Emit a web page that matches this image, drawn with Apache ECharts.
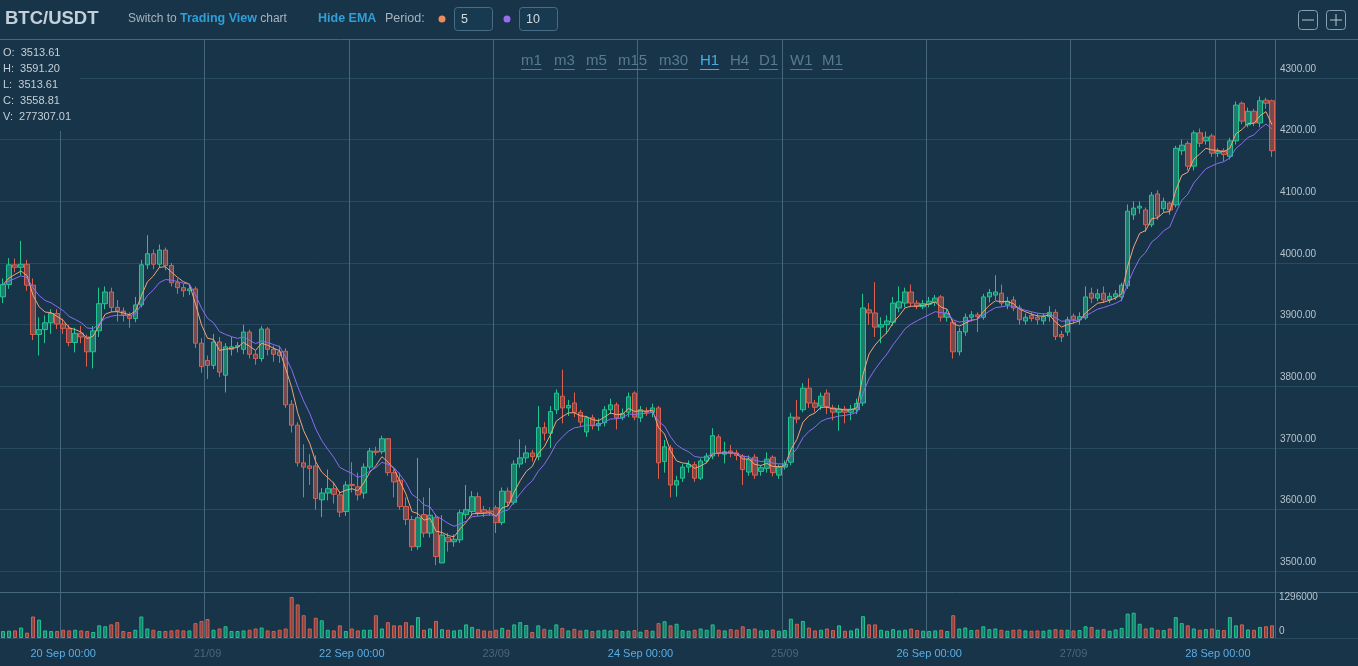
<!DOCTYPE html>
<html><head><meta charset="utf-8">
<script src="https://cdn.jsdelivr.net/npm/echarts@6/dist/echarts.min.js"></script>
<style>html,body{margin:0;padding:0;background:#173449;overflow:hidden}#c{width:1358px;height:666px}</style>
</head><body><div id="c"></div>
<script>
// ---------- DATA ----------
const opens = [3945,3965,3997,3993,3998,3964,3884,3892,3903,3918,
3901,3894,3871,3886,3880,3856,3890,3934,3953,3928,
3922,3915,3910,3932,3997,4015,3998,4021,3996,3968,
3960,3955,3958,3870,3842,3834,3872,3818,3860,3864,
3860,3888,3852,3845,3893,3860,3856,3857,3771,3737,
3676,3671,3671,3616,3627,3634,3624,3597,3641,3637,
3627,3669,3695,3694,3715,3660,3648,3605,3584,3540,
3592,3562,3587,3513.61,3555,3548,3551,3592,3597,3621,
3600,3598,3603,3579,3630,3612,3674,3684,3692,3686,
3733,3724,3762,3784,3765,3773,3758,3726,3749,3736,
3741,3762,3770,3749,3758,3789,3749,3760,3758,3765,
3678,3700,3640,3651,3669,3673,3651,3679,3687,3718,
3690,3695,3692,3687,3661,3685,3662,3667,3685,3656,
3669,3677,3750,3762,3797,3773,3768,3789,3765,3758,
3763,3758,3762,3773,3924,3919,3896,3900,3904,3927,
3935,3953,3935,3929,3933,3936,3945,3912,3904,3856,
3888,3912,3916,3912,3945,3948,3951,3932,3940,3927,
3906,3915,3912,3906,3913,3920,3884,3888,3914,3908,
3911,3951,3943,3951,3940,3945,3945,3963,4078,4089,
4086,4062,4112,4088,4097,4094,4182,4194,4157,4211,
4198,4206,4178,4182,4173,4198,4259,4224,4246,4227,
4264,4263];
const closes = [3965,3997,3993,3998,3964,3884,3892,3903,3918,3901,
3894,3871,3886,3880,3856,3890,3934,3953,3928,3922,
3915,3910,3932,3997,4015,3998,4021,3996,3968,3960,
3955,3958,3870,3832,3834,3872,3823,3864,3864,3866,
3888,3852,3845,3893,3860,3852,3850,3770,3737,3676,
3669,3667,3618,3627,3634,3625,3596,3640,3639,3624,
3669,3695,3693,3715,3660,3645,3605,3584,3540,3587,
3562,3591,3524,3558.81,3548,3552,3595,3600,3621,3595,
3595,3596,3579,3630,3612,3674,3684,3692,3686,3733,
3724,3759,3789,3765,3769,3758,3742,3749,3736,3740,
3762,3770,3749,3756,3783,3750,3762,3758,3765,3676,
3702,3640,3647,3669,3673,3651,3679,3687,3720,3692,
3694,3692,3688,3665,3682,3656,3668,3682,3660,3669,
3674,3750,3747,3797,3773,3766,3784,3767,3758,3763,
3758,3763,3772,3927,3919,3896,3900,3906,3935,3937,
3953,3935,3930,3934,3938,3943,3912,3918,3856,3889,
3912,3916,3913,3945,3952,3953,3935,3938,3927,3908,
3912,3910,3908,3913,3920,3881,3880,3908,3908,3913,
3945,3943,3950,3940,3946,3950,3964,4084,4089,4092,
4062,4110,4076,4100,4086,4186,4191,4157,4211,4194,
4204,4178,4181,4176,4198,4256,4230,4246,4227,4263,
4259,4182];
const lows = [3935,3958,3985,3980,3955,3875,3850,3870,3885,3893,
3885,3865,3855,3870,3832,3829,3880,3925,3920,3905,
3905,3895,3904,3928,3990,3990,3992,3988,3962,3950,
3945,3948,3862,3822,3812,3828,3815,3790,3850,3855,
3852,3845,3835,3840,3850,3840,3838,3765,3725,3670,
3620,3640,3600,3588,3615,3610,3588,3590,3628,3615,
3618,3665,3688,3690,3655,3620,3600,3575,3533,3535,
3555,3555,3510,3513.61,3532,3540,3546,3585,3590,3590,
3588,3590,3562,3575,3605,3608,3668,3676,3678,3680,
3712,3700,3755,3740,3752,3750,3735,3718,3730,3728,
3735,3755,3730,3745,3750,3745,3742,3752,3750,3650,
3660,3620,3621,3645,3660,3645,3648,3675,3682,3686,
3675,3685,3680,3640,3655,3650,3655,3660,3654,3650,
3665,3672,3740,3758,3765,3758,3762,3755,3745,3728,
3740,3745,3755,3768,3900,3880,3870,3885,3898,3920,
3928,3930,3925,3925,3928,3930,3905,3905,3845,3850,
3882,3905,3888,3908,3936,3940,3930,3925,3922,3900,
3900,3905,3900,3900,3905,3875,3872,3882,3902,3900,
3908,3935,3938,3935,3935,3940,3938,3958,4070,4080,
4050,4058,4070,4082,4078,4090,4175,4150,4150,4188,
4192,4172,4172,4165,4168,4192,4225,4220,4222,4220,
4250,4172];
const highs = [3975,4008,4007,4036,4005,3975,3912,3915,3925,3925,
3910,3900,3895,3898,3884,3898,3960,3962,3960,3940,
3928,3920,3945,4005,4045,4022,4030,4025,4000,3975,
3966,3965,3962,3878,3850,3885,3880,3870,3880,3872,
3900,3892,3858,3898,3896,3866,3866,3862,3778,3742,
3706,3690,3688,3635,3665,3645,3630,3646,3677,3660,
3675,3700,3702,3720,3716,3665,3660,3620,3590,3684,
3620,3635,3593,3591.20,3562,3560,3600,3640,3630,3628,
3606,3604,3607,3636,3636,3680,3714,3704,3697,3768,
3742,3768,3795,3827,3778,3790,3762,3752,3754,3748,
3768,3780,3774,3764,3790,3792,3768,3766,3772,3768,
3713,3705,3655,3674,3680,3678,3683,3692,3732,3722,
3710,3705,3697,3690,3688,3690,3672,3693,3688,3673,
3680,3757,3778,3805,3813,3778,3790,3795,3770,3770,
3768,3770,3780,3950,3935,3969,3912,3915,3945,3962,
3960,3965,3940,3940,3945,3948,3948,3925,3908,3895,
3918,3922,3920,3950,3958,3980,3965,3945,3946,3932,
3918,3920,3918,3918,3930,3925,3890,3913,3918,3920,
3962,3960,3958,3962,3952,3956,3968,4095,4100,4100,
4090,4115,4118,4106,4100,4190,4200,4198,4215,4218,
4213,4210,4186,4186,4203,4262,4262,4252,4250,4270,
4268,4265];
const volumes = [220000,230000,240000,330000,170000,680000,580000,240000,220000,220000,
260000,240000,260000,240000,220000,190000,400000,370000,430000,500000,
220000,190000,260000,680000,300000,260000,220000,220000,240000,260000,
240000,240000,470000,540000,600000,260000,300000,370000,220000,220000,
240000,260000,300000,330000,240000,220000,260000,300000,1296000,1060000,
720000,300000,640000,560000,260000,240000,400000,220000,300000,240000,
260000,260000,720000,300000,500000,400000,400000,500000,400000,660000,
260000,300000,540000,277307.01,260000,240000,260000,430000,350000,280000,
240000,230000,260000,320000,260000,430000,500000,410000,190000,400000,
290000,260000,430000,320000,240000,290000,240000,260000,220000,240000,
260000,240000,260000,220000,230000,250000,200000,250000,230000,470000,
530000,400000,450000,250000,230000,260000,300000,260000,430000,260000,
240000,280000,260000,370000,280000,300000,240000,250000,270000,230000,
250000,610000,450000,540000,330000,240000,260000,300000,250000,400000,
230000,240000,300000,690000,430000,430000,260000,230000,280000,240000,
260000,300000,250000,230000,220000,240000,260000,220000,720000,300000,
330000,250000,260000,370000,280000,300000,260000,230000,260000,270000,
240000,230000,240000,230000,260000,280000,260000,260000,240000,250000,
370000,350000,260000,280000,230000,270000,320000,770000,800000,450000,
300000,330000,260000,250000,300000,660000,470000,400000,300000,260000,
280000,300000,260000,250000,660000,400000,430000,270000,260000,350000,
370000,400000];
const priceTicks = [3500,3600,3700,3800,3900,4000,4100,4200,4300];
const volTicks = [0,1296000];
const dayLabels = ['20 Sep 00:00','21/09','22 Sep 00:00','23/09','24 Sep 00:00','25/09','26 Sep 00:00','27/09','28 Sep 00:00'];
const firstDayIndex = 10;          // candle index of 20 Sep 00:00 (series starts 19 Sep 14:00)
const timeframes = ['m1','m3','m5','m15','m30','H1','H4','D1','W1','M1'];
const activeTf = 'H1';
const emaPeriods = [5,10];
const infoIndex = 73;
const symbol = 'BTC/USDT';

// ---------- HELPERS ----------
const N = closes.length;
const pad = n => (n < 10 ? '0' : '') + n;
const categories = [];
for (let i = 0; i < N; i++) {
  const d = new Date(Date.UTC(2018, 8, 19, 14 + i));
  categories.push(pad(d.getUTCMonth() + 1) + '-' + pad(d.getUTCDate()) + ' ' + pad(d.getUTCHours()) + ':00');
}
function ema(vals, n) {
  const k = 2 / (n + 1); const out = []; let e = vals[0];
  vals.forEach((v, i) => { e = i === 0 ? v : v * k + e * (1 - k); out.push(+e.toFixed(2)); });
  return out;
}
const isDay = idx => idx >= firstDayIndex && (idx - firstDayIndex) % 24 === 0;

const BG = '#173449', GREEN = '#22c592', RED = '#dc5f4f';
const GF = 'rgba(34,197,146,0.5)', RF = 'rgba(220,95,79,0.5)';
const HLINE = '#284a61', VLINE = '#46667c', SEP = '#46687f';
const FONT = '"Liberation Sans", Arial, sans-serif';

const PMIN = 3466.5, PMAX = 4363.2, VMAX = 1454000;

const candleData = opens.map((o, i) => [o, closes[i], lows[i], highs[i]]);
const volData = volumes.map((v, i) => {
  const up = closes[i] >= opens[i];
  return { value: v, itemStyle: { color: up ? GF : RF, borderColor: up ? GREEN : RED, borderWidth: 1 } };
});

// text measuring for underlines
const mctx = document.createElement('canvas').getContext('2d');
function tw(t, font) { mctx.font = font; return mctx.measureText(t).width; }

// ---------- GRAPHICS (header, info box) ----------
const g = [];
g.push({ type: 'rect', z: 100, shape: { x: 0, y: 0, width: 1358, height: 39 }, style: { fill: BG } });
g.push({ type: 'line', z: 101, shape: { x1: 0, y1: 39.5, x2: 1358, y2: 39.5 }, style: { stroke: '#44667e', lineWidth: 1 } });
g.push({ type: 'text', z: 101, x: 5, y: 19, style: { text: symbol, font: 'bold 18.5px ' + FONT, fill: '#c3d0da', verticalAlign: 'middle' } });
g.push({ type: 'text', z: 101, x: 128, y: 19, style: {
  text: '{g|Switch to }{b|Trading View}{g| chart}', verticalAlign: 'middle',
  rich: { g: { font: '12px ' + FONT, fill: '#a7b4be' }, b: { font: 'bold 12.5px ' + FONT, fill: '#2f9fd8' } } } });
g.push({ type: 'text', z: 101, x: 318, y: 19, style: { text: 'Hide EMA', font: 'bold 12.5px ' + FONT, fill: '#2f9fd8', verticalAlign: 'middle' } });
g.push({ type: 'text', z: 101, x: 385, y: 19, style: { text: 'Period:', font: '12.5px ' + FONT, fill: '#a7b4be', verticalAlign: 'middle' } });
const dotCol = ['#f08a5b', '#9a6cf2'];
const boxX = [454, 519];
emaPeriods.forEach((p, k) => {
  g.push({ type: 'circle', z: 101, shape: { cx: boxX[k] - 12, cy: 19, r: 3.5 }, style: { fill: dotCol[k] } });
  g.push({ type: 'rect', z: 101, shape: { x: boxX[k] + 0.5, y: 7.5, width: 38, height: 23, r: 3 }, style: { fill: '#183a51', stroke: '#4a6d86', lineWidth: 1 } });
  g.push({ type: 'text', z: 102, x: boxX[k] + 7, y: 19.5, style: { text: String(p), font: '12.5px ' + FONT, fill: '#d3dbe1', verticalAlign: 'middle' } });
});
// zoom buttons
[[1298, '-'], [1326, '+']].forEach(([bx, s]) => {
  g.push({ type: 'rect', z: 101, shape: { x: bx + 0.5, y: 10.5, width: 19, height: 19, r: 3 }, style: { fill: 'none', stroke: '#8aa0b0', lineWidth: 1 } });
  g.push({ type: 'line', z: 101, shape: { x1: bx + 4, y1: 20, x2: bx + 16, y2: 20 }, style: { stroke: '#b9c7d1', lineWidth: 1 } });
  if (s === '+') g.push({ type: 'line', z: 101, shape: { x1: bx + 10, y1: 14, x2: bx + 10, y2: 26 }, style: { stroke: '#b9c7d1', lineWidth: 1 } });
});
// timeframes
const tfX = [521, 554, 586, 618, 659, 700, 730, 759, 790, 822];
const tfFont = '15px ' + FONT;
timeframes.forEach((t, k) => {
  const col = t === activeTf ? '#4aaae4' : '#5a7a90';
  const w = tw(t, tfFont);
  g.push({ type: 'text', z: 101, x: tfX[k], y: 61, style: { text: t, font: tfFont, fill: col, verticalAlign: 'middle' } });
  g.push({ type: 'line', z: 101, shape: { x1: tfX[k], y1: 69.5, x2: tfX[k] + w, y2: 69.5 }, style: { stroke: col, lineWidth: 1 } });
});
// info box
g.push({ type: 'rect', z: 100, shape: { x: 0, y: 40, width: 80, height: 91 }, style: { fill: BG } });
const info = [['O', opens[infoIndex]], ['H', highs[infoIndex]], ['L', lows[infoIndex]], ['C', closes[infoIndex]], ['V', volumes[infoIndex]]];
info.forEach(([k, v], j) => {
  g.push({ type: 'text', z: 101, x: 3, y: 53 + j * 16, style: { text: k + ':  ' + v.toFixed(2), font: '11px ' + FONT, fill: '#c5cfd7', verticalAlign: 'middle' } });
});

// ---------- CHART ----------
const chart = echarts.init(document.getElementById('c'));
const baseAxisText = { fontFamily: FONT, fontSize: 10, color: '#b8c3cb' };
chart.setOption({
  backgroundColor: BG,
  animation: false,
  grid: [
    { left: 0, top: 39, width: 1275, height: 553 },
    { left: 0, top: 592, width: 1275, height: 46 },
    { left: 1275, top: 39, width: 83, height: 553 },
    { left: 1275, top: 592, width: 83, height: 46 }
  ],
  xAxis: [
    { type: 'category', gridIndex: 0, data: categories, boundaryGap: true,
      axisLine: { show: true, lineStyle: { color: SEP } }, axisTick: { show: false }, axisLabel: { show: false },
      splitLine: { show: true, interval: (i) => isDay(i), lineStyle: { color: VLINE, width: 1 } } },
    { type: 'category', gridIndex: 1, data: categories, boundaryGap: true,
      axisLine: { show: true, lineStyle: { color: '#2a4a60' } }, axisTick: { show: false },
      axisLabel: { show: true, interval: (i) => isDay(i), margin: 10, fontFamily: FONT, fontSize: 11,
        formatter: (v, i) => { const k = (i - firstDayIndex) / 24; return k % 2 === 0 ? '{a|' + dayLabels[k] + '}' : '{b|' + dayLabels[k] + '}'; },
        rich: { a: { color: '#5aaee6', fontFamily: FONT, fontSize: 11 }, b: { color: '#4f6577', fontFamily: FONT, fontSize: 11 } } },
      splitLine: { show: true, interval: (i) => isDay(i), lineStyle: { color: VLINE, width: 1 } } },
    { type: 'value', gridIndex: 2, min: 0, max: 1, axisLine: { show: true, lineStyle: { color: SEP } }, axisTick: { show: false }, axisLabel: { show: false }, splitLine: { show: false } },
    { type: 'value', gridIndex: 3, min: 0, max: 1, axisLine: { show: true, lineStyle: { color: '#2a4a60' } }, axisTick: { show: false }, axisLabel: { show: false }, splitLine: { show: false } }
  ],
  yAxis: [
    { type: 'value', gridIndex: 0, min: PMIN, max: PMAX, position: 'right',
      axisLine: { show: false }, axisTick: { show: false, customValues: priceTicks }, axisLabel: { show: false, customValues: priceTicks },
      splitLine: { show: true, lineStyle: { color: HLINE } } },
    { type: 'value', gridIndex: 1, min: 0, max: VMAX, axisLine: { show: false }, axisTick: { show: false }, axisLabel: { show: false }, splitLine: { show: false } },
    { type: 'value', gridIndex: 2, min: PMIN, max: PMAX, position: 'left',
      axisLine: { show: true, lineStyle: { color: SEP } }, axisTick: { show: false, customValues: priceTicks },
      axisLabel: Object.assign({ inside: true, margin: 5, customValues: priceTicks, verticalAlign: 'bottom', padding: [0, 0, 4, 0], formatter: v => v.toFixed(2) }, baseAxisText),
      splitLine: { show: true, lineStyle: { color: HLINE } } },
    { type: 'value', gridIndex: 3, min: 0, max: VMAX, position: 'left',
      axisLine: { show: true, lineStyle: { color: SEP } }, axisTick: { show: false, customValues: volTicks },
      axisLabel: Object.assign({ inside: true, margin: 4, customValues: volTicks,
        formatter: v => v === 0 ? '{z|0}' : '{m|' + v + '}',
        rich: { z: { padding: [0, 0, 14, 0], fontFamily: FONT, fontSize: 10, color: '#b8c3cb' }, m: { fontFamily: FONT, fontSize: 10, color: '#b8c3cb' } } }, baseAxisText),
      splitLine: { show: false } }
  ],
  series: [
    { type: 'candlestick', xAxisIndex: 0, yAxisIndex: 0, data: candleData, barWidth: 5,
      itemStyle: { color: GF, color0: RF, borderColor: GREEN, borderColor0: RED, borderWidth: 1 } },
    { type: 'line', xAxisIndex: 0, yAxisIndex: 0, data: ema(closes, emaPeriods[0]), symbol: 'none',
      lineStyle: { color: '#f2a576', width: 1 }, z: 5 },
    { type: 'line', xAxisIndex: 0, yAxisIndex: 0, data: ema(closes, emaPeriods[1]), symbol: 'none',
      lineStyle: { color: '#8a6df0', width: 1 }, z: 5 },
    { type: 'bar', xAxisIndex: 1, yAxisIndex: 1, data: volData, barWidth: 4 }
  ],
  graphic: { elements: g }
});
</script></body></html>
